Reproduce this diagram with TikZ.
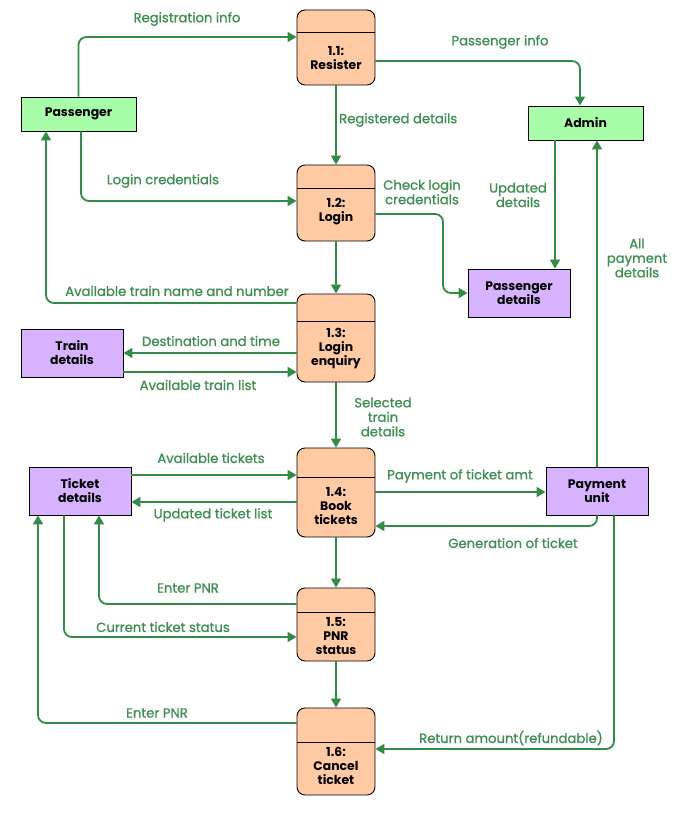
\documentclass[tikz,border=0pt]{standalone}
\usepackage{fontspec}
\setmainfont{Poppins}
\newfontfamily\lblfont{Poppins}[FakeBold=1.0]
\usetikzlibrary{arrows.meta}
\definecolor{lnc}{RGB}{52,139,72}
\definecolor{lbc}{RGB}{62,142,82}
\definecolor{procfill}{RGB}{255,202,164}
\definecolor{extfill}{RGB}{168,253,168}
\definecolor{storefill}{RGB}{214,178,255}
\tikzset{
  flow/.style={draw=lnc, line width=1.8pt, rounded corners=8pt, -{Triangle[length=9pt,width=10pt]}},
  lbl/.style={text=lbc, font=\lblfont\fontsize{13.2}{14.5}\selectfont, align=center, inner sep=0pt},
  proc/.style={draw=black, fill=procfill, line width=0.9pt, rounded corners=8pt, minimum width=78pt, inner sep=0pt},
  ptext/.style={font=\bfseries\fontsize{12.4}{14}\selectfont, align=center, inner sep=0pt},
  ext/.style={draw=black, fill=extfill, line width=0.9pt, minimum width=115pt, minimum height=34pt, inner sep=0pt, font=\bfseries\fontsize{12.4}{14}\selectfont},
  store/.style={draw=black, fill=storefill, line width=0.9pt, minimum width=102pt, minimum height=48pt, inner sep=0pt, align=center, font=\bfseries\fontsize{12.4}{14}\selectfont},
}
\begin{document}
\begin{tikzpicture}[x=1pt,y=-1pt]
\useasboundingbox[fill=white] (0,0) rectangle (700,826);
% processes
\node[proc, minimum height=75pt] (p1) at (336,47.5) {};
\node[proc, minimum height=76pt] (p2) at (336,203) {};
\node[proc, minimum height=88pt] (p3) at (336,338) {};
\node[proc, minimum height=89pt] (p4) at (336,492.5) {};
\node[proc, minimum height=73pt] (p5) at (336,624.5) {};
\node[proc, minimum height=87pt] (p6) at (336,751.5) {};
\draw[line width=0.9pt] (p1.west |- 0,32) -- (p1.east |- 0,32);
\draw[line width=0.9pt] (p2.west |- 0,188) -- (p2.east |- 0,188);
\draw[line width=0.9pt] (p3.west |- 0,321) -- (p3.east |- 0,321);
\draw[line width=0.9pt] (p4.west |- 0,477) -- (p4.east |- 0,477);
\draw[line width=0.9pt] (p5.west |- 0,612) -- (p5.east |- 0,612);
\draw[line width=0.9pt] (p6.west |- 0,742) -- (p6.east |- 0,742);
\node[ptext] (p1t) at (336,58.5) {1.1:\\Resister};
\node[ptext] (p2t) at (336,212) {1.2:\\Login};
\node[ptext] (p3t) at (336,349) {1.3:\\Login\\enquiry};
\node[ptext] (p4t) at (336,506) {1.4:\\Book\\tickets};
\node[ptext] (p5t) at (336,636) {1.5:\\PNR\\status};
\node[ptext] (p6t) at (336,766) {1.6:\\Cancel\\ticket};
% externals and stores
\node[ext] (pass) at (78.5,114) {Passenger};
\node[ext] (admin) at (585.5,123) {Admin};
\node[store] (pdet) at (519,293) {Passenger\\details};
\node[store] (tdet) at (72,353) {Train\\details};
\node[store] (tkdet) at (80,491) {Ticket\\details};
\node[store] (pay) at (597,491) {Payment\\unit};
% flows
\draw[flow] (pass.north) |- (p1.west |- 0,37);
\node[lbl] (l1) at (187,19) {Registration info};
\draw[flow] (p1.east |- 0,61) -| (admin.north -| 580,0);
\node[lbl] (l2) at (500,42) {Passenger info};
\draw[flow] (p1.south) -- (p2.north);
\node[lbl, anchor=west] (l3) at (339,120) {Registered details};
\draw[flow] (pass.south -| 81,0) |- (p2.west |- 0,201);
\node[lbl] (l4) at (163,181) {Login credentials};
\draw[flow] (p2.east |- 0,214) -| (pdet.west -| 443,0) -- (pdet.west);
\node[lbl, align=center] (l5) at (422,192) {Check login\\credentials};
\draw[flow] (admin.south -| 555,0) -- (pdet.north -| 555,0);
\node[lbl] (l6) at (518,195) {Updated\\details};
\draw[flow] (pay.north) -- (admin.south -| pay.north);
\node[lbl] (l7) at (637,258) {All\\payment\\details};
\draw[flow] (p2.south) -- (p3.north);
\draw[flow] (p3.west |- 0,303) -| (pass.south -| 46,0);
\node[lbl] (l9) at (177,291) {Available train name and number};
\draw[flow] (p3.west |- 0,353) -- (tdet.east |- 0,353);
\node[lbl] (l10) at (211,341) {Destination and time};
\draw[flow] (tdet.east |- 0,372) -- (p3.west |- 0,372);
\node[lbl] (l11) at (198,385) {Available train list};
\draw[flow] (p3.south) -- (p4.north);
\node[lbl] (l12) at (383,417) {Selected\\train\\details};
\draw[flow] (tkdet.east |- 0,475) -- (p4.west |- 0,475);
\node[lbl] (l13) at (211,458) {Available tickets};
\draw[flow] (p4.west |- 0,502) -- (tkdet.east |- 0,502);
\node[lbl] (l14) at (213,515) {Updated ticket list};
\draw[flow] (p4.east |- 0,492) -- (pay.west |- 0,492);
\node[lbl] (l15) at (460,476) {Payment of ticket amt};
\draw[flow] (pay.south) |- (p4.east |- 0,526);
\node[lbl] (l16) at (513,543) {Generation of ticket};
\draw[flow] (p4.south) -- (p5.north);
\draw[flow] (p5.west |- 0,604) -| (tkdet.south -| 99,0);
\node[lbl] (l18) at (188,588) {Enter PNR};
\draw[flow] (tkdet.south -| 64,0) |- (p5.west |- 0,637);
\node[lbl] (l19) at (163,627) {Current ticket status};
\draw[flow] (p5.south) -- (p6.north);
\draw[flow] (p6.west |- 0,723) -| (tkdet.south -| 38,0);
\node[lbl] (l21) at (157,713) {Enter PNR};
\draw[flow] (pay.south -| 614,0) |- (p6.east |- 0,749);
\node[lbl] (l22) at (511,738) {Return amount(refundable)};
\end{tikzpicture}
\end{document}
